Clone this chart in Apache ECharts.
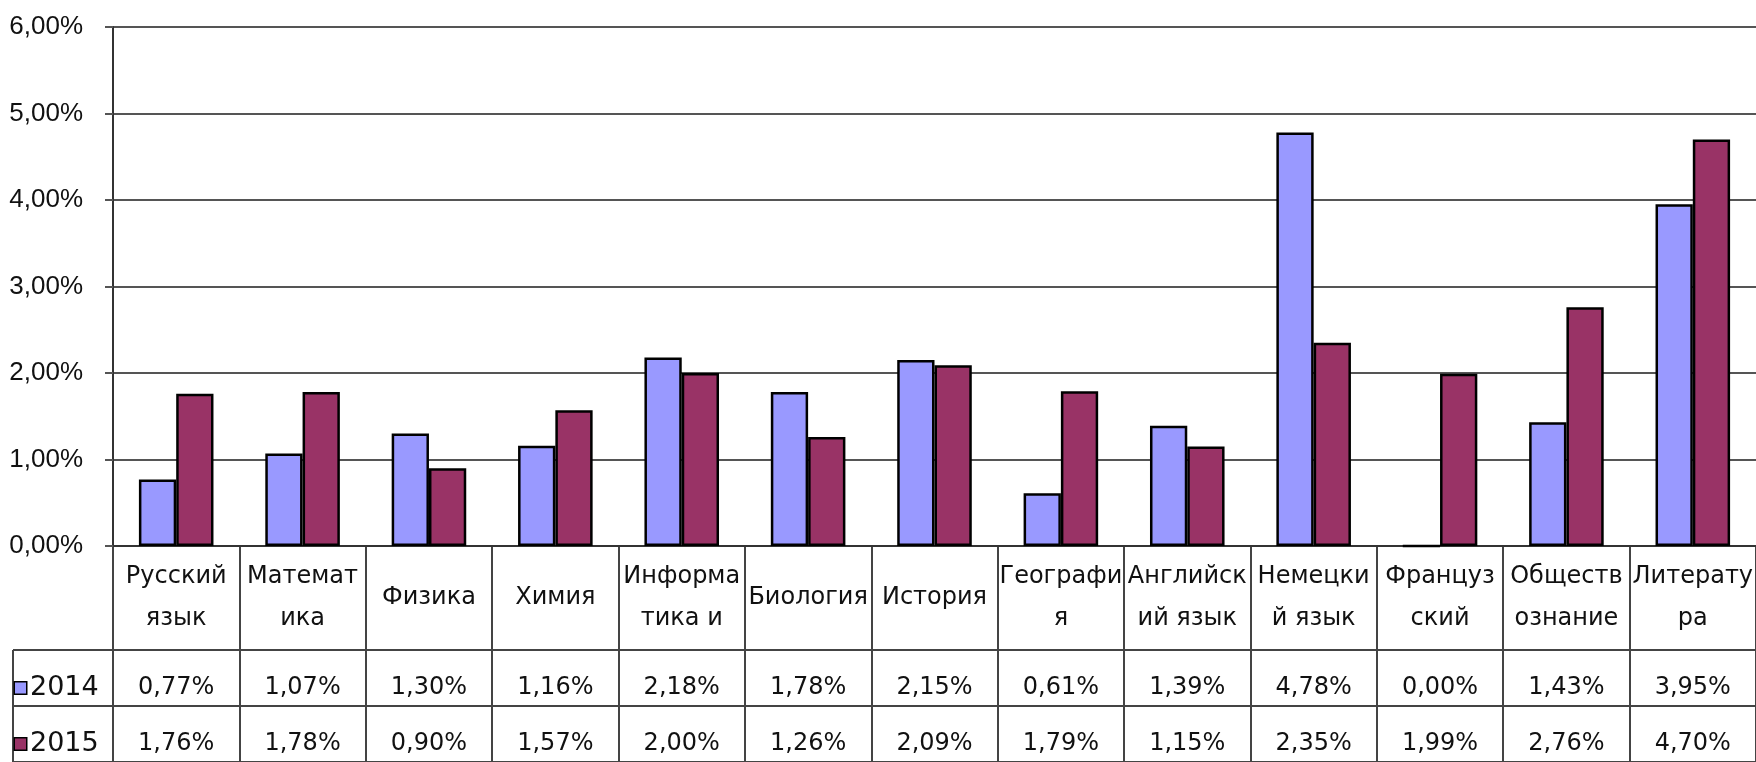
<!DOCTYPE html>
<html>
<head>
<meta charset="utf-8">
<script src="https://cdn.jsdelivr.net/npm/echarts@6/dist/echarts.min.js"></script>
<style>
html, body { margin: 0; padding: 0; background: #fff; }
#main { width: 1756px; height: 762px; }
</style>
</head>
<body>
<div id="main"></div>
<script>
// subjects (header row of the data table)
const subjects = [
  "Русский\nязык", "Математ\nика", "Физика", "Химия", "Информа\nтика и",
  "Биология", "История", "Географи\nя", "Английск\nий язык", "Немецки\nй язык",
  "Француз\nский", "Обществ\nознание", "Литерату\nра"
];
const years = ["2014", "2015"];
// values in percent
const share2014 = [0.77, 1.07, 1.30, 1.16, 2.18, 1.78, 2.15, 0.61, 1.39, 4.78, 0.00, 1.43, 3.95];
const share2015 = [1.76, 1.78, 0.90, 1.57, 2.00, 1.26, 2.09, 1.79, 1.15, 2.35, 1.99, 2.76, 4.70];

const colors = ["#9999FF", "#993366"];
const lineColor = "#444";
const textColor = "#111";
const tableFont = "DejaVu Sans";

const fmtPct = (v) => v.toFixed(2).replace(".", ",") + "%";

let myChart = echarts.init(document.getElementById("main"), null, { renderer: "canvas" });

const tableAxis = (gridIndex, data) => ({
  type: "category",
  gridIndex: gridIndex,
  data: data,
  axisLine: { show: false },
  axisTick: { show: false },
  axisLabel: { show: false },
  splitLine: { show: true, interval: 0, lineStyle: { color: lineColor, width: 2 } },
});

// text cells of the table; scatter is 0.8 opaque by default, labels inherit it
const rowSeries = (vals, row) => ({
  type: "scatter",
  xAxisIndex: 2,
  yAxisIndex: 2,
  silent: true,
  symbol: "rect",
  symbolSize: 1,
  itemStyle: { color: "#fff", opacity: 1 },
  data: vals.map((v, i) => [i, row, v]),
  label: {
    show: true,
    position: "inside",
    offset: [0, 10],
    formatter: (p) => fmtPct(p.value[2]),
    fontFamily: tableFont,
    fontSize: 24,
    color: textColor,
    opacity: 1,
    textBorderWidth: 0,
  },
});

let option = {
  animation: false,
  backgroundColor: "#fff",
  grid: [
    { left: 113, top: 27, width: 1647, height: 519 },
    { left: 113, top: 546, width: 1647, height: 104 },
    { left: 113, top: 650, width: 1647, height: 120 },
    { left: 13, top: 650, width: 100, height: 120 },
  ],
  xAxis: [
    {
      type: "category",
      gridIndex: 0,
      data: subjects,
      axisLine: { show: true, lineStyle: { color: "#333", width: 2 } },
      axisTick: { show: false },
      axisLabel: {
        interval: 0,
        margin: 52,
        verticalAlign: "middle",
        lineHeight: 42,
        fontFamily: tableFont,
        fontSize: 24,
        color: textColor,
      },
    },
    tableAxis(1, subjects),
    tableAxis(2, subjects),
    tableAxis(3, [""]),
  ],
  yAxis: [
    {
      type: "value",
      gridIndex: 0,
      min: 0,
      max: 6,
      interval: 1,
      axisLine: { show: true, lineStyle: { color: "#333", width: 2 } },
      axisTick: { show: true, length: 8, lineStyle: { color: "#555", width: 2 } },
      splitLine: { show: true, lineStyle: { color: "#555", width: 2 } },
      axisLabel: {
        margin: 30,
        fontFamily: "Liberation Sans",
        fontSize: 26,
        color: textColor,
        formatter: (v) => fmtPct(v),
      },
    },
    { type: "value", gridIndex: 1, min: 0, max: 1, show: false },
    Object.assign(tableAxis(2, years), { inverse: true }),
    Object.assign(tableAxis(3, years), {
      inverse: true,
      axisLabel: {
        show: true,
        inside: true,
        margin: 2,
        padding: [20, 0, 0, 0],
        formatter: (v, i) => "{s" + i + "|}{t|" + v + "}",
        rich: {
          s0: { width: 11, height: 11, backgroundColor: colors[0], borderColor: "#000", borderWidth: 1.5 },
          s1: { width: 11, height: 11, backgroundColor: colors[1], borderColor: "#000", borderWidth: 1.5 },
          t: { fontFamily: tableFont, fontSize: 27, color: textColor, padding: [0, 0, 0, 4] },
        },
      },
    }),
  ],
  series: [
    {
      name: years[0],
      type: "bar",
      data: share2014,
      barGap: "0%",
      barCategoryGap: "41%",
      itemStyle: { color: colors[0], borderColor: "#000", borderWidth: 2.5 },
    },
    {
      name: years[1],
      type: "bar",
      data: share2015,
      itemStyle: { color: colors[1], borderColor: "#000", borderWidth: 2.5 },
    },
    rowSeries(share2014, 0),
    rowSeries(share2015, 1),
  ],
};

myChart.setOption(option);
</script>
</body>
</html>
